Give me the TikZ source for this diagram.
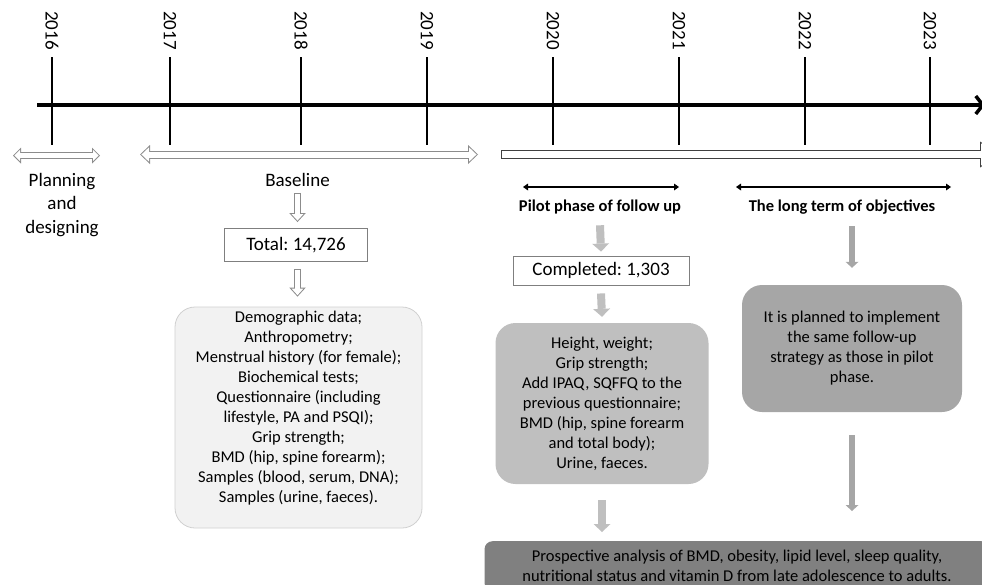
\documentclass[tikz,border=0pt]{standalone}
\usepackage{fontspec}
\setmainfont{Carlito}
\usetikzlibrary{arrows.meta,calc}
\definecolor{linegray}{HTML}{8C8C8C}
\definecolor{boxline}{HTML}{7F7F7F}
\definecolor{paleface}{HTML}{F2F2F2}
\definecolor{paleline}{HTML}{D0D0D0}
\definecolor{pilotgray}{HTML}{BFBFBF}
\definecolor{longgray}{HTML}{A6A6A6}
\definecolor{prospgray}{HTML}{808080}
\newcommand{\bigtext}{\fontsize{19}{23.2}\selectfont}
\newcommand{\boxtext}{\fontsize{16.5}{20}\selectfont}
\frenchspacing

\begin{document}
\begin{tikzpicture}[x=1pt,y=-1pt,
  tick/.style={line width=1.6pt},
  year/.style={rotate=-90,anchor=west,inner sep=0pt,font=\bigtext},
  label/.style={inner sep=0pt,align=center,font=\bigtext},
  phase/.style={inner sep=0pt,font=\boxtext\bfseries},
  countbox/.style={draw=boxline,line width=0.9pt,inner sep=0pt,font=\bigtext},
  softbox/.style={rounded corners=20pt,inner sep=0pt,align=center,font=\boxtext},
  hollowone/.style={draw=linegray,line width=7pt,-{Triangle[length=9pt,width=16.5pt,line width=0pt]},
    postaction={draw=white,line width=5pt,shorten <=1pt,shorten >=1.48pt,
      -{Triangle[length=6.52pt,width=11.95pt,line width=0pt]}}},
  hollowsmall/.style={draw=linegray,line width=7pt,
    {Triangle[length=8pt,width=16pt,line width=0pt]}-{Triangle[length=8pt,width=16pt,line width=0pt]},
    postaction={draw=white,line width=5pt,shorten <=1.41pt,shorten >=1.41pt,
      {Triangle[length=5.59pt,width=11.17pt,line width=0pt]}-{Triangle[length=5.59pt,width=11.17pt,line width=0pt]}}},
  hollowwide/.style={draw=linegray,line width=8pt,
    {Triangle[length=10pt,width=19pt,line width=0pt]}-{Triangle[length=10pt,width=19pt,line width=0pt]},
    postaction={draw=white,line width=6pt,shorten <=1.45pt,shorten >=1.45pt,
      {Triangle[length=7.55pt,width=14.34pt,line width=0pt]}-{Triangle[length=7.55pt,width=14.34pt,line width=0pt]}}},
  span/.style={line width=2pt,{Triangle[length=5pt,width=7pt,line width=0pt]}-{Triangle[length=5pt,width=7pt,line width=0pt]}},
  pilotarrow/.style={draw=pilotgray,line width=8pt,-{Triangle[length=8pt,width=17pt,line width=0pt]}},
  longarrow/.style={draw=longgray,line width=6pt,-{Triangle[length=6pt,width=13pt,line width=0pt]}}]
\clip (0,0) rectangle (982,584);

% time axis
\draw[line width=3.5pt,-{Straight Barb[length=7pt,width=18pt]}] (37,105) -- (985,105);
\foreach \yr/\x in {2016/52,2017/170,2018/301,2019/427,2020/553,2021/679,2022/805,2023/930}{
  \draw[tick] (\x,57) -- (\x,145);
  \node[year] (y\yr) at (\x,11) {\yr};
}

% phases below the axis
\draw[hollowsmall] (13,155.5) -- (100,155.5);
\draw[hollowwide] (140,154.5) -- (478,154.5);
\draw[draw=black!75,line width=9pt,-{Triangle[length=20pt,width=26pt,line width=0pt]},
  postaction={draw=white,line width=7pt,shorten <=1pt,shorten >=1.84pt,
    -{Triangle[length=17.17pt,width=22.3pt,line width=0pt]}}] (501,154.5) -- (1000,154.5);

\node[label] (plan) at (62,205) {Planning\\and\\designing};
\node[label] (base) at (297.5,180) {Baseline};

% baseline
\node[countbox,minimum width=143pt,minimum height=33pt] (total) at (296,245) {Total: 14,726};
\node[softbox,fill=paleface,draw=paleline,line width=0.8pt,minimum width=247pt,minimum height=221pt] (basebox) at (298.5,417.5) {};
\node[inner sep=0pt,align=center,font=\boxtext] (basetext) at ($(basebox.center)+(0,-9)$)
  {Demographic data;\\Anthropometry;\\Menstrual history (for female);\\Biochemical tests;\\Questionnaire (including\\lifestyle, PA and PSQI);\\Grip strength;\\BMD (hip, spine forearm);\\Samples (blood, serum, DNA);\\Samples (urine, faeces).};
\draw[hollowone] ($(base.south)+(0,6)$) -- ($(base.south |- total.north)+(0,-6)$);
\draw[hollowone] ($(base.south |- total.south)+(0,7)$) -- ($(base.south |- basebox.north)+(0,-10)$);

% follow up
\draw[span] (523,187) -- (679,187);
\draw[span] (736,187) -- (951,187);
\node[phase] (pilot) at (600,207) {Pilot phase of follow up};
\node[phase] (longterm) at (842,207) {The long term of objectives};

\node[countbox,minimum width=176pt,minimum height=29pt] (done) at (601,270.5) {Completed: 1,303};
\node[softbox,fill=pilotgray,minimum width=213pt,minimum height=161pt] (pilotbox) at (602,403.5)
  {Height, weight;\\Grip strength;\\Add IPAQ, SQFFQ to the\\previous questionnaire;\\BMD (hip, spine forearm\\and total body);\\Urine, faeces.};
\node[softbox,fill=longgray,minimum width=220pt,minimum height=127pt] (longbox) at (852,348.5)
  {It is planned to implement\\the same follow-up\\strategy as those in pilot\\phase.};
\node[softbox,rounded corners=8pt,fill=prospgray,minimum width=505pt,inner ysep=9pt] (prosp) at (737,566)
  {Prospective analysis of BMD, obesity, lipid level, sleep quality,\\nutritional status and vitamin D from late adolescence to adults.};

\draw[pilotarrow] ($(pilot.south)+(0,11)$) -- ($(done.north)+(0,-4)$);
\draw[pilotarrow] ($(done.south)+(0,8)$) -- ($(pilotbox.north)+(0,-6)$);
\draw[pilotarrow] ($(pilotbox.south)+(0,16)$) -- ($(pilotbox.south |- prosp.north)+(0,-9)$);
\draw[longarrow] ($(longterm.south -| longbox.north)+(0,12)$) -- ($(longbox.north)+(0,-17)$);
\draw[longarrow] ($(longbox.south)+(0,23)$) -- ($(longbox.south |- prosp.north)+(0,-30)$);

\end{tikzpicture}
\end{document}
